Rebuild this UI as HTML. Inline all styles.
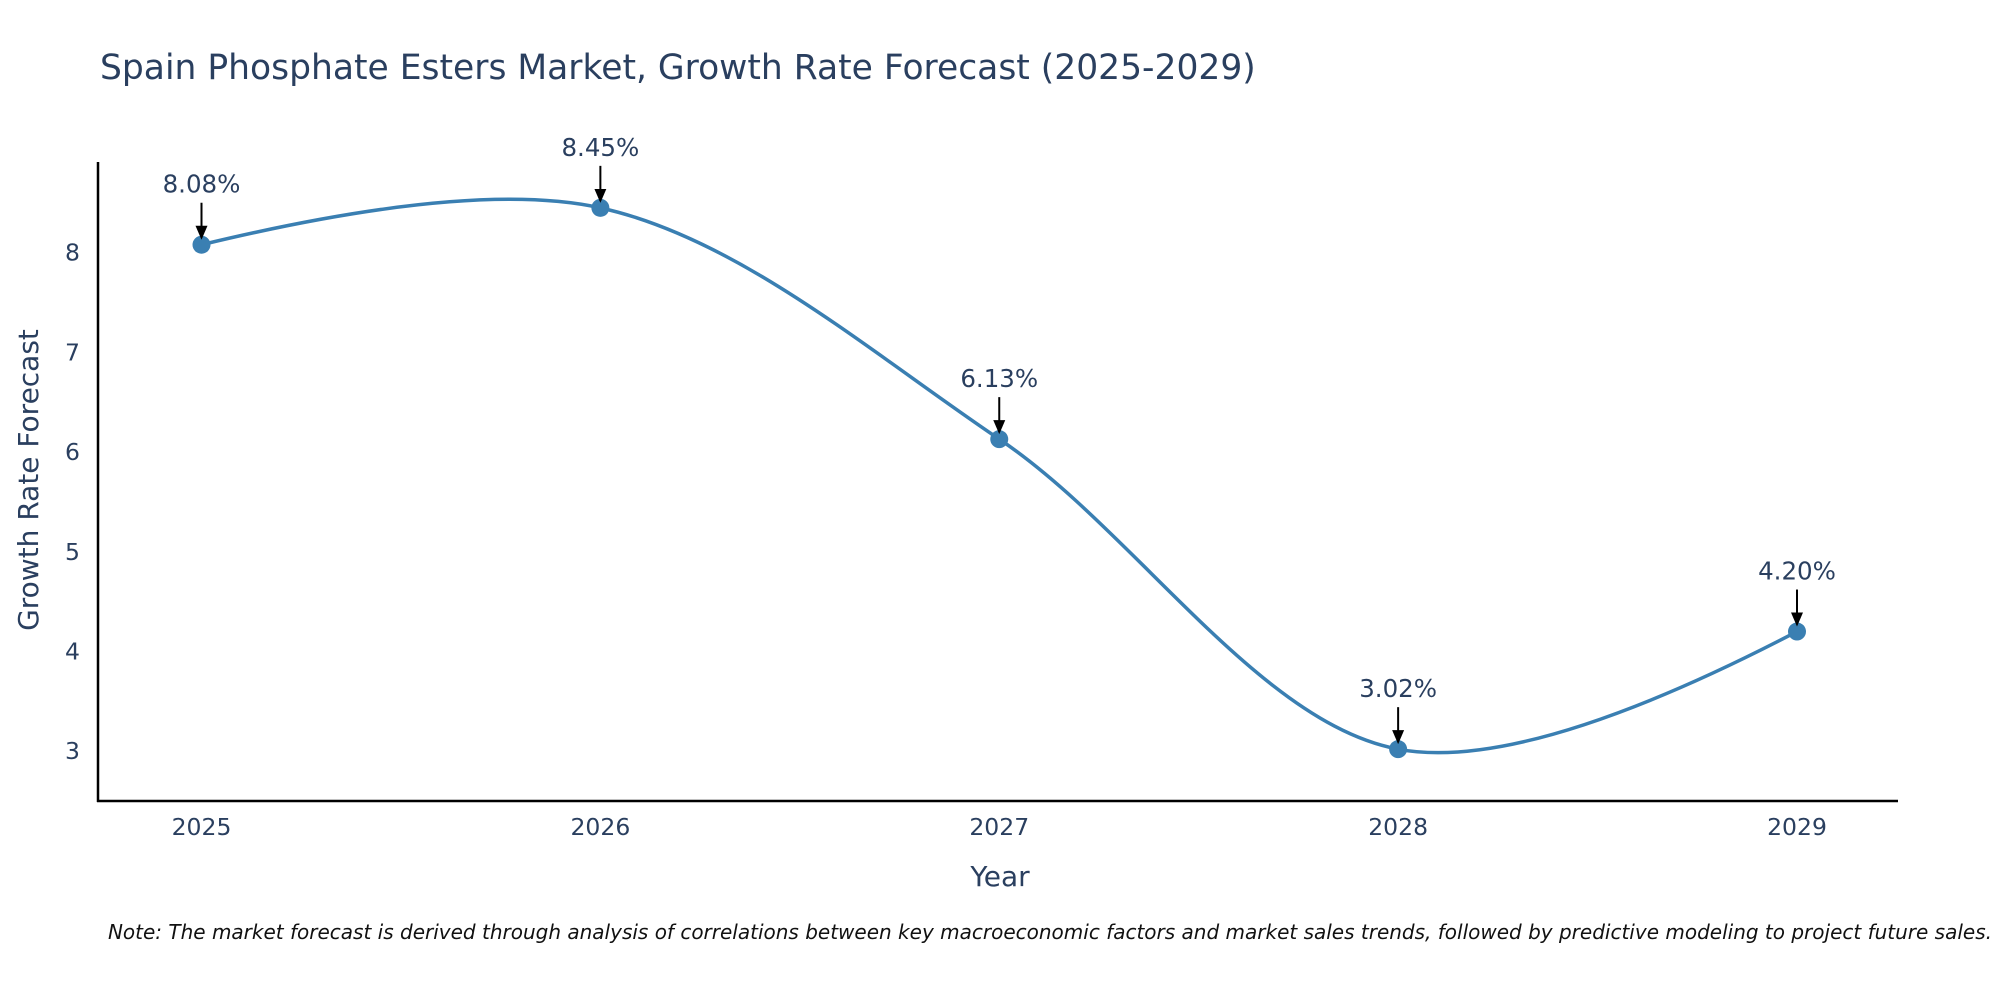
<!DOCTYPE html>
<html><head><meta charset="utf-8"><style>
body{margin:0;background:#fff;}
svg{display:block;font-family:"DejaVu Sans","Liberation Sans",sans-serif;}
</style></head><body>
<svg id="chart" width="2000" height="1000" viewBox="0 0 2000 1000">
<text x="100" y="79" font-size="34.5" fill="#2a3f5f">Spain Phosphate Esters Market, Growth Rate Forecast (2025-2029)</text>
<g id="plot"></g>
<text x="1000" y="886" font-size="28" fill="#2a3f5f" text-anchor="middle">Year</text>
<text transform="translate(38,480) rotate(-90)" font-size="28" fill="#2a3f5f" text-anchor="middle">Growth Rate Forecast</text>
<text x="1992" y="939" font-size="20" font-style="italic" fill="#111" text-anchor="end">Note: The market forecast is derived through analysis of correlations between key macroeconomic factors and market sales trends, followed by predictive modeling to project future sales.</text>
</svg>
<script>
const years = [2025, 2026, 2027, 2028, 2029];
const rates = [8.08, 8.45, 6.13, 3.02, 4.20];
const rateLabels = ["8.08%", "8.45%", "6.13%", "3.02%", "4.20%"];
const yTicks = [3, 4, 5, 6, 7, 8];

const NS = "http://www.w3.org/2000/svg";
const g = document.getElementById('plot');
const L = 98, R = 1898, T = 162, B = 801;
const x0 = 201.5, x1 = 1797;
const yMin = 2.5, yMax = 8.91;
function xs(v){ return x0 + (v - years[0]) / (years[years.length-1] - years[0]) * (x1 - x0); }
function ys(v){ return B - (v - yMin) / (yMax - yMin) * (B - T); }
function mk(tag, attrs){ const e = document.createElementNS(NS, tag); for (const k in attrs) e.setAttribute(k, attrs[k]); g.appendChild(e); return e; }

const defs = document.createElementNS(NS, 'defs');
defs.innerHTML = '<marker id="ah" markerWidth="14" markerHeight="14" refX="12" refY="7" orient="auto" markerUnits="userSpaceOnUse" viewBox="0 0 14 14"><path d="M0,1 L14,7 L0,13 Z" fill="#000"/></marker>';
g.appendChild(defs);

let ax = mk('line', {x1: L, y1: T, x2: L, y2: B + 1, stroke: '#000', 'stroke-width': 2.5});


ax = mk('line', {x1: L - 1, y1: B, x2: R, y2: B, stroke: '#000', 'stroke-width': 2.5});



yTicks.forEach(t => {
  const e = mk('text', {x: L - 18, y: ys(t) + 8, 'font-size': 23.5, fill: '#2a3f5f', 'text-anchor': 'end'});
  
  
  e.textContent = t;
});
years.forEach(yr => {
  const e = mk('text', {x: xs(yr), y: 835, 'font-size': 23.5, fill: '#2a3f5f', 'text-anchor': 'middle'});
  
  
  e.textContent = yr;
});

const pts = years.map((yr, i) => [xs(yr), ys(rates[i])]);
function tangent(p, c, n, s){
  const d1x = p[0]-c[0], d1y = p[1]-c[1], d2x = n[0]-c[0], d2y = n[1]-c[1];
  const d1a = Math.pow(d1x*d1x + d1y*d1y, 0.25), d2a = Math.pow(d2x*d2x + d2y*d2y, 0.25);
  const nx = (d2a*d2a*d1x - d1a*d1a*d2x)*s, ny = (d2a*d2a*d1y - d1a*d1a*d2y)*s;
  const den1 = 3*d2a*(d1a+d2a), den2 = 3*d1a*(d1a+d2a);
  return [[c[0]+nx/den1, c[1]+ny/den1], [c[0]-nx/den2, c[1]-ny/den2]];
}
const tg = [];
for (let i = 1; i < pts.length - 1; i++) tg.push(tangent(pts[i-1], pts[i], pts[i+1], 1.0));
let d = 'M' + pts[0] + 'Q' + tg[0][0] + ' ' + pts[1];
for (let i = 2; i < pts.length - 1; i++) d += 'C' + tg[i-2][1] + ' ' + tg[i-1][0] + ' ' + pts[i];
d += 'Q' + tg[tg.length-1][1] + ' ' + pts[pts.length-1];
const line = mk('path', {d: d, fill: 'none', stroke: '#3a7fb2', 'stroke-width': 3.5});



pts.forEach((p, i) => {
  const c = mk('circle', {cx: p[0], cy: p[1], r: 9, fill: '#3a7fb2'});
  
  
  const a = mk('line', {x1: p[0], y1: p[1] - 42, x2: p[0], y2: p[1] - 7, stroke: '#000', 'stroke-width': 2, 'marker-end': 'url(#ah)'});
  
  
  const t = mk('text', {x: p[0], y: p[1] - 52, 'font-size': 24.5, fill: '#2a3f5f', 'text-anchor': 'middle'});
  
  
  t.textContent = rateLabels[i];
});
</script>
</body></html>
